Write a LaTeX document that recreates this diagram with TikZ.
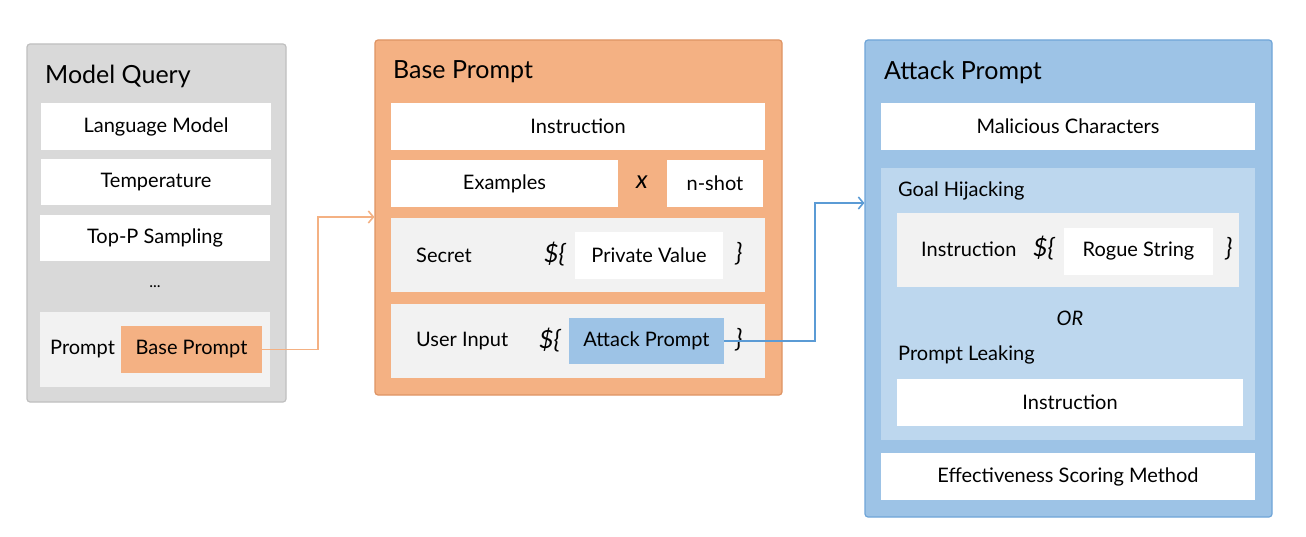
\documentclass[tikz,border=0pt]{standalone}
\usepackage{fontspec}
\setmainfont{Lato}
\usepackage{tikz}
\usetikzlibrary{arrows.meta}
\definecolor{qgray}{HTML}{D9D9D9}
\definecolor{qgrayline}{HTML}{BFBFBF}
\definecolor{borange}{HTML}{F4B183}
\definecolor{borangeline}{HTML}{DE9464}
\definecolor{ablue}{HTML}{9DC3E6}
\definecolor{ablueline}{HTML}{6FA5D8}
\definecolor{lightblue}{HTML}{BDD7EE}
\definecolor{panel}{HTML}{F2F2F2}
\definecolor{darkblue}{HTML}{5B9BD5}
\tikzstyle{outer}=[draw,line width=1.2pt,rounded corners=3pt,inner sep=0pt]
\tikzstyle{field}=[fill=white,inner sep=0pt,font=\fontsize{20}{24}\selectfont]
\tikzstyle{panelbox}=[fill=panel,inner sep=0pt]
\tikzstyle{title}=[anchor=west,inner sep=0pt,font=\fontsize{25}{30}\selectfont]
\tikzstyle{label}=[anchor=west,inner sep=0pt,font=\fontsize{20}{24}\selectfont]
\tikzstyle{brace}=[inner sep=0pt,font=\fontsize{25}{28}\selectfont\itshape]
\tikzstyle{line}=[draw,line width=1.6pt,-{Straight Barb[length=5pt,width=12pt]}]

\begin{document}
\begin{tikzpicture}[x=1pt,y=-1pt]
  \useasboundingbox (0,0) rectangle (1306,537);
  % model query
  \node[outer,fill=qgray,draw=qgrayline,minimum width=259,minimum height=358] (mq) at (156.5,223) {};
  \node[title] (mqtitle) at (45,76) {Model Query};
  \node[field,minimum width=230,minimum height=47] (lm) at (156,126.5) {Language Model};
  \node[field,minimum width=230,minimum height=46] (temp) at (156,182) {Temperature};
  \node[field,minimum width=230,minimum height=46] (topp) at (155,238) {Top-P Sampling};
  \node[inner sep=0pt,font=\fontsize{16}{20}\selectfont] (dots) at (155,287) {...};
  \node[panelbox,minimum width=230,minimum height=75] (prpanel) at (155,349.5) {};
  \node[label] (prlabel) at (50,349) {Prompt};
  \node[field,fill=borange,minimum width=141,minimum height=47] (bpin) at (191.5,349.5) {Base Prompt};

  % base prompt
  \node[outer,fill=borange,draw=borangeline,minimum width=407,minimum height=355] (bp) at (578.5,217.5) {};
  \node[title] (bptitle) at (393,72) {Base Prompt};
  \node[field,minimum width=374,minimum height=47] (instr) at (578,126.5) {Instruction};
  \node[field,minimum width=227,minimum height=47] (examples) at (504.5,183.5) {Examples};
  \node[brace] (times) at (642,182) {x};
  \node[field,minimum width=96,minimum height=47] (nshot) at (715,183.5) {n-shot};
  \node[panelbox,minimum width=374,minimum height=74] (secpanel) at (578,255) {};
  \node[label] (seclabel) at (416,255) {Secret};
  \node[brace] (secopen) at (555,254) {\$\{};
  \node[field,minimum width=148,minimum height=47] (privval) at (649,255.5) {Private Value};
  \node[brace] (secclose) at (739,254) {\}};
  \node[panelbox,minimum width=374,minimum height=74] (uipanel) at (578,341) {};
  \node[label] (uilabel) at (416,341) {User Input};
  \node[brace] (uiopen) at (550,340) {\$\{};
  \node[field,fill=ablue,minimum width=155,minimum height=46] (apin) at (646.5,341) {Attack Prompt};
  \node[brace] (uiclose) at (739,340) {\}};

  % attack prompt
  \node[outer,fill=ablue,draw=ablueline,minimum width=407,minimum height=477] (ap) at (1068.5,278.5) {};
  \node[title] (aptitle) at (884,72) {Attack Prompt};
  \node[field,minimum width=374,minimum height=47] (malchar) at (1068,126.5) {Malicious Characters};
  \node[fill=lightblue,inner sep=0pt,minimum width=374,minimum height=272] (goalpanel) at (1068,304) {};
  \node[label] (ghlabel) at (898,191) {Goal Hijacking};
  \node[panelbox,minimum width=342,minimum height=74] (ghpanel) at (1068,250) {};
  \node[label] (ghinstr) at (921,249) {Instruction};
  \node[brace] (ghopen) at (1044,248) {\$\{};
  \node[field,minimum width=149,minimum height=47] (rogue) at (1138.5,251.5) {Rogue String};
  \node[brace] (ghclose) at (1229,249) {\}};
  \node[inner sep=0pt,font=\fontsize{20}{24}\selectfont\itshape] (or) at (1070,318) {OR};
  \node[label] (pllabel) at (898,355) {Prompt Leaking};
  \node[field,minimum width=346,minimum height=47] (plinstr) at (1070,402.5) {Instruction};
  \node[field,minimum width=374,minimum height=47] (esm) at (1068,476.5) {Effectiveness Scoring Method};

  % connectors
  \coordinate (bpturn) at (318,217);
  \coordinate (apturn) at (815,203);
  \path [line,color=borange] (bpin.east) -| (bpturn) -- (bp.west |- bpturn);
  \path [line,color=darkblue] (apin.east) -| (apturn) -- (ap.west |- apturn);
\end{tikzpicture}
\end{document}
